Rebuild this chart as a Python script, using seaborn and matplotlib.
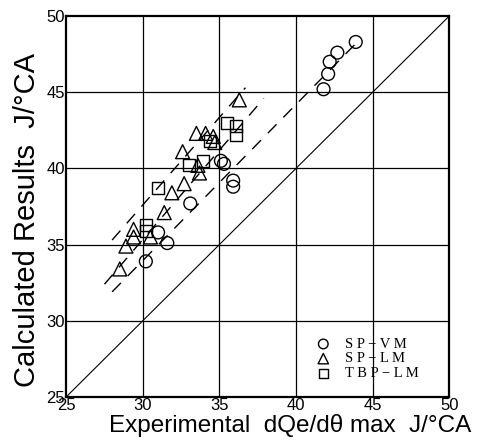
import matplotlib
matplotlib.use("Agg")
import matplotlib.pyplot as plt
import seaborn as sns

# SP-VM (circles)
vm_x = [43.9, 42.7, 42.2, 42.1, 41.8, 35.1, 35.3, 35.9, 35.9, 33.1, 31.0, 31.6, 30.2]
vm_y = [48.3, 47.6, 47.0, 46.2, 45.2, 40.5, 40.3, 39.2, 38.8, 37.7, 35.8, 35.1, 33.9]

# SP-LM (triangles)
lm_x = [36.3, 34.1, 33.5, 34.6, 34.7, 32.6, 33.7, 33.6, 32.7, 31.9, 31.4, 29.4, 29.4, 28.9, 30.5, 28.5]
lm_y = [44.5, 42.3, 42.3, 42.1, 41.7, 41.1, 39.7, 40.2, 39.0, 38.4, 37.1, 36.0, 35.5, 34.9, 35.5, 33.4]

# TBP-LM (squares)
tbp_x = [35.5, 36.1, 36.1, 34.4, 33.0, 33.9, 31.0, 30.2, 30.2]
tbp_y = [43.0, 42.8, 42.2, 41.8, 40.2, 40.5, 38.7, 36.3, 35.9]

# dashed guide lines (end points)
upper_x = [28.0, 36.7]
upper_y = [35.3, 45.3]
mid_x = [27.5, 37.9]
mid_y = [32.4, 44.6]
lower_x = [28.0, 44.2]
lower_y = [31.9, 48.5]

ticks = [25, 30, 35, 40, 45, 50]

sns.set_style("white")
plt.rcParams['font.family'] = ['Liberation Sans', 'DejaVu Sans']
plt.rcParams['text.color'] = 'black'
plt.rcParams['axes.labelcolor'] = 'black'
plt.rcParams['xtick.color'] = 'black'
plt.rcParams['ytick.color'] = 'black'

fig = plt.figure(figsize=(4.83, 4.47), dpi=100)
ax = fig.add_axes([0.137, 0.112, 0.793, 0.852])

# grid and 1:1 line
for t in ticks[1:-1]:
    ax.axvline(t, color="black", lw=0.9, zorder=0)
    ax.axhline(t, color="black", lw=0.9, zorder=0)
sns.lineplot(x=[25, 50], y=[25, 50], color="black", lw=0.8, ax=ax)

for lx, ly in [(upper_x, upper_y), (mid_x, mid_y), (lower_x, lower_y)]:
    ax.plot(lx, ly, color="black", lw=1.0, dashes=(9, 7))

sns.scatterplot(x=vm_x, y=vm_y, marker="o", s=85, facecolor="none",
                edgecolor="black", linewidth=1.0, label="S P − V M", ax=ax, zorder=3)
sns.scatterplot(x=lm_x, y=lm_y, marker="^", s=100, facecolor="none",
                edgecolor="black", linewidth=1.0, label="S P − L M", ax=ax, zorder=3)
sns.scatterplot(x=tbp_x, y=tbp_y, marker="s", s=75, facecolor="none",
                edgecolor="black", linewidth=1.0, label="T B P − L M", ax=ax, zorder=3)

ax.set_xlim(25, 50)
ax.set_ylim(25, 50)
ax.set_xticks(ticks)
ax.set_yticks(ticks)
ax.tick_params(labelsize=12, length=0, pad=1)
for s in ax.spines.values():
    s.set_color("black")
    s.set_linewidth(1.6)

ax.set_xlabel("Experimental  dQe/dθ max  J/°CA", fontsize=17.5, labelpad=0)
ax.set_ylabel("Calculated Results  J/°CA", fontsize=21, labelpad=4)
ax.xaxis.set_label_coords(0.585, -0.045, transform=ax.transAxes)
ax.yaxis.label.set_y(0.465)

leg = ax.legend(loc="lower right", bbox_to_anchor=(0.94, 0.025), frameon=False,
                handletextpad=0.5, labelspacing=0.1, borderpad=0, markerscale=0.75,
                prop={"family": "Liberation Serif", "size": 10.5})

fig.savefig("out.png", dpi=100)
